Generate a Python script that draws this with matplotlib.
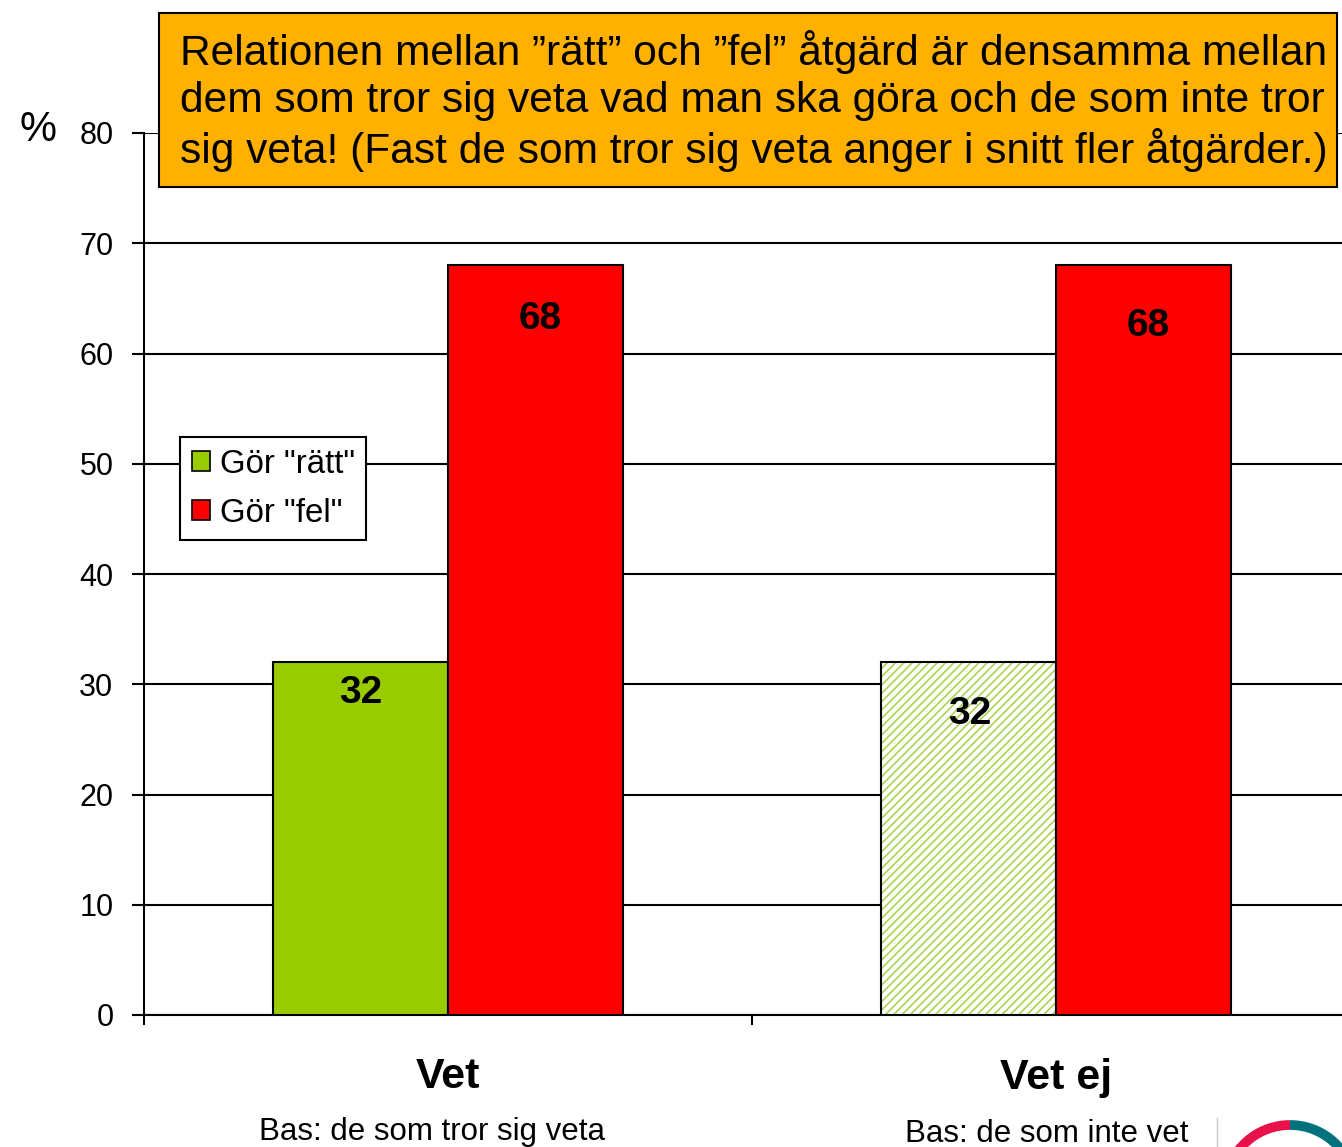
"""Vet / Vet ej - rätt vs fel åtgärd (stapeldiagram)"""

import matplotlib
matplotlib.use("Agg")
from matplotlib import pyplot as plt
from matplotlib.patches import Patch, Rectangle, Arc

plt.rcParams['font.family'] = ['Liberation Sans', 'DejaVu Sans']
plt.rcParams['hatch.linewidth'] = 1.2

# data
categories = ["Vet", "Vet ej"]
base_notes = ["Bas: de som tror sig veta", "Bas: de som inte vet"]
ratt = [32, 32]
fel = [68, 68]
series_names = ['Gör "rätt"', 'Gör "fel"']
y_ticks = [0, 10, 20, 30, 40, 50, 60, 70, 80]
headline = ("Relationen mellan \u201drätt\u201d och \u201dfel\u201d åtgärd är densamma mellan\n"
            "dem som tror sig veta vad man ska göra och de som inte tror\n"
            "sig veta! (Fast de som tror sig veta anger i snitt fler åtgärder.)")

GREEN = "#99CC00"
RED = "#FF0000"
ORANGE = "#FFB000"
W, H = 1342, 1147

fig = plt.figure(figsize=(W / 100, H / 100), dpi=100)
ax = fig.add_axes([144 / W, 1 - 1015 / H, (1360 - 144) / W, 882 / H])

bw = 0.288
x = list(range(len(categories)))
# left group solid green, right group hatched light green
ax.bar(x[0] - bw / 2, ratt[0], bw, color=GREEN, edgecolor="black", lw=1.5, zorder=3)
ax.bar(x[1] - bw / 2, ratt[1], bw, color="white", edgecolor="#A9D44E",
       hatch="////", lw=0, zorder=3)
ax.bar(x[1] - bw / 2, ratt[1], bw, fill=False, edgecolor="black", lw=1.5, zorder=4)
ax.bar([i + bw / 2 for i in x], fel, bw, color=RED, edgecolor="black", lw=1.5, zorder=3)

# value labels (offsets in points below bar top)
ratt_off = [(0, -22), (1, -37)]
fel_off = [(3, -39), (3, -43.5)]
for i in x:
    ax.annotate(f"{ratt[i]}", (i - bw / 2, ratt[i]), xytext=ratt_off[i],
                textcoords="offset points", ha="center", va="center",
                fontsize=28, fontweight="bold", zorder=5)
    ax.annotate(f"{fel[i]}", (i + bw / 2, fel[i]), xytext=fel_off[i],
                textcoords="offset points", ha="center", va="center",
                fontsize=28, fontweight="bold", zorder=5)

ax.set_xlim(-0.5, 1.5)
ax.set_ylim(0, 80)
ax.set_yticks(y_ticks)
ax.set_xticks([-0.5, 0.5, 1.5])
ax.set_xticklabels([])
ax.tick_params(axis="y", length=9, width=1.5, pad=13, labelsize=22)
ax.tick_params(axis="x", length=7.5, width=1.5)
ax.yaxis.grid(True, color="black", lw=1.5)
ax.set_axisbelow(True)
for s in ("top", "right"):
    ax.spines[s].set_visible(False)
for s in ("left", "bottom"):
    ax.spines[s].set_linewidth(1.5)

# category labels + base notes
note_off = [(-11.5, -84), (-7, -86)]
for i in x:
    ax.annotate(categories[i], (i, 0), xycoords=("data", "axes fraction"),
                xytext=(0, -45), textcoords="offset points",
                ha="center", va="center", fontsize=31, fontweight="bold")
    ax.annotate(base_notes[i], (i, 0), xycoords=("data", "axes fraction"),
                xytext=note_off[i], textcoords="offset points",
                ha="center", va="center", fontsize=22.5)

fig.text(38 / W, 1 - 130 / H, "%", fontsize=30, ha="center", va="center")

# legend
handles = [Patch(facecolor=GREEN, edgecolor="black", lw=1.2),
           Patch(facecolor=RED, edgecolor="black", lw=1.2)]
leg = fig.legend(handles, series_names, loc="upper left",
                 bbox_to_anchor=(180 / W, 1 - 437 / H), borderaxespad=0,
                 fontsize=23.8, fancybox=False, framealpha=1, edgecolor="black",
                 handlelength=0.55, handleheight=0.55, handletextpad=0.3,
                 labelspacing=0.55, borderpad=0.35)
leg.get_frame().set_linewidth(1.5)

# headline box
fig.add_artist(Rectangle((159 / W, 1 - 187 / H), (1337 - 159) / W, 174 / H,
                         transform=fig.transFigure, facecolor=ORANGE,
                         edgecolor="black", lw=1.5, zorder=5))
fig.text(180 / W, 1 - 101 / H, headline, fontsize=30.6, ha="left",
         va="center", linespacing=1.2, zorder=6)

# logo fragment, bottom right (y axis inverted -> screen top is theta 270)
lax = fig.add_axes([1200 / W, 0, 142 / W, 40 / H])
lax.set_xlim(1200, 1342)
lax.set_ylim(1147, 1107)
lax.axis("off")
lax.plot([1217, 1217], [1118, 1147], color="#C8C8C8", lw=1)
lax.add_patch(Arc((1290, 1190), 130, 130, theta1=195, theta2=270,
                  color="#E8114A", lw=7))
lax.add_patch(Arc((1290, 1190), 130, 130, theta1=270, theta2=345,
                  color="#00727E", lw=7))

fig.savefig("out.png", dpi=100)
